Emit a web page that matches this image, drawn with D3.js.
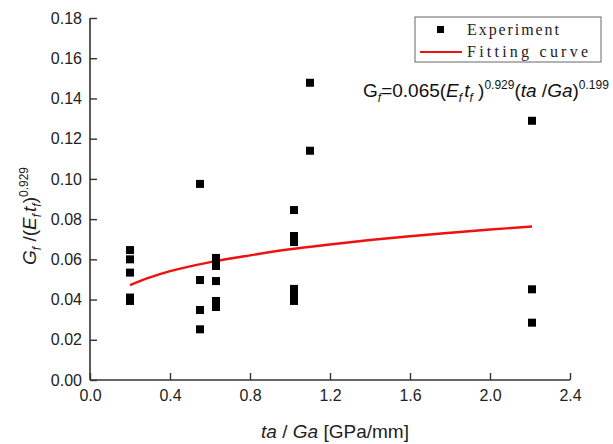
<!DOCTYPE html>
<html>
<head>
<meta charset="utf-8">
<script src="https://cdn.jsdelivr.net/npm/d3@7"></script>
<style>
body { margin: 0; background: #fff; }
text { font-family: "Liberation Sans", Arial, sans-serif; }
</style>
</head>
<body>
<svg id="chart"></svg>
<script>
// experiment points
var expX = [0.2, 0.2, 0.2, 0.2, 0.2,
	0.55, 0.55, 0.55, 0.55,
	0.63, 0.63, 0.63, 0.63, 0.63,
	1.02, 1.02, 1.02, 1.02, 1.02, 1.02,
	1.1, 1.1,
	2.21, 2.21, 2.21];
var expY = [0.0646, 0.0600, 0.0534, 0.0410, 0.0393,
	0.0975, 0.0497, 0.0348, 0.0252,
	0.0607, 0.0567, 0.0492, 0.0393, 0.0363,
	0.0845, 0.0716, 0.0686, 0.0453, 0.0423, 0.0393,
	0.1478, 0.1140,
	0.1289, 0.0451, 0.0285];

// fitting curve
var fitX = [0.2, 0.3, 0.4, 0.6, 0.8, 1.0, 1.2, 1.4, 1.6, 1.8, 2.0, 2.21];
var fitY = [0.0472, 0.0510, 0.0541, 0.0586, 0.0620, 0.0650, 0.0674, 0.0696, 0.0715, 0.0732, 0.0748, 0.0763];

var xTicks = [0.0, 0.4, 0.8, 1.2, 1.6, 2.0, 2.4];
var yTicks = [0.00, 0.02, 0.04, 0.06, 0.08, 0.10, 0.12, 0.14, 0.16, 0.18];

var W = 613, H = 444;
var svg = d3.select("#chart").attr("width", W).attr("height", H);

var x = d3.scaleLinear().domain([0, 2.4]).range([90, 570]);
var y = d3.scaleLinear().domain([0, 0.18]).range([380, 18]);

var axisColor = "#333";

// axes
var xAxis = svg.append("g")
	.attr("transform", "translate(0,380)")
	.call(d3.axisBottom(x).tickValues(xTicks).tickSize(-7).tickPadding(10).tickFormat(d3.format(".1f")));
var yAxis = svg.append("g")
	.attr("transform", "translate(90,0)")
	.call(d3.axisLeft(y).tickValues(yTicks).tickSize(-7).tickPadding(8).tickFormat(d3.format(".2f")));

[xAxis, yAxis].forEach(function(a) {
	a.select(".domain").attr("stroke", axisColor).attr("stroke-width", 1.6);
	a.selectAll(".tick line").attr("stroke", axisColor).attr("stroke-width", 1.4);
	a.selectAll(".tick text").attr("fill", "#222").style("font-size", "16px")
		.style("font-family", "Liberation Sans, Arial, sans-serif");
});
xAxis.select(".domain").attr("d", "M90,0H570");
yAxis.select(".domain").attr("d", "M0,18V380");

// fitting curve
var line = d3.line()
	.x(function(d, i) { return x(fitX[i]); })
	.y(function(d, i) { return y(fitY[i]); })
	.curve(d3.curveMonotoneX);
svg.append("path")
	.datum(fitX)
	.attr("d", line)
	.attr("fill", "none")
	.attr("stroke", "#f01010")
	.attr("stroke-width", 2.4);

// points
var sz = 8;
svg.selectAll(".pt")
	.data(expX)
	.enter()
	.append("rect")
	.attr("class", "pt")
	.attr("x", function(d) { return x(d) - sz / 2; })
	.attr("y", function(d, i) { return y(expY[i]) - sz / 2; })
	.attr("width", sz)
	.attr("height", sz)
	.attr("fill", "#000");

// legend
var lg = svg.append("g");
lg.append("rect")
	.attr("x", 415).attr("y", 17).attr("width", 186).attr("height", 45)
	.attr("fill", "#fff").attr("stroke", "#666").attr("stroke-width", 1);
lg.append("rect").attr("x", 437).attr("y", 26).attr("width", 7).attr("height", 7).attr("fill", "#000");
lg.append("line").attr("x1", 420).attr("x2", 462).attr("y1", 52).attr("y2", 52)
	.attr("stroke", "#f01010").attr("stroke-width", 2);
lg.append("text").attr("x", 467).attr("y", 35).text("Experiment")
	.attr("textLength", 92).attr("lengthAdjust", "spacing")
	.style("font-family", "Liberation Serif, serif").style("font-size", "16px").attr("fill", "#222");
lg.append("text").attr("x", 467).attr("y", 57).text("Fitting curve")
	.attr("textLength", 121).attr("lengthAdjust", "spacing")
	.style("font-family", "Liberation Serif, serif").style("font-size", "16px").attr("fill", "#222");

// equation
var eq = svg.append("text").attr("x", 363).attr("y", 97).style("font-size", "19px").attr("fill", "#111");
function part(el, txt, opt) {
	opt = opt || {};
	var t = el.append("tspan").text(txt);
	if (opt.it) t.style("font-style", "italic");
	if (opt.size) t.style("font-size", opt.size + "px");
	if (opt.dy) t.attr("dy", opt.dy);
	if (opt.dx) t.attr("dx", opt.dx);
	return t;
}
part(eq, "G");
part(eq, "f", { it: true, size: 12, dy: 5 });
part(eq, "=0.065(", { dy: -5 });
part(eq, "E", { it: true });
part(eq, "f", { it: true, size: 12, dy: 5 });
part(eq, "t", { it: true, dy: -5, dx: 2 });
part(eq, "f", { it: true, size: 12, dy: 5 });
part(eq, " )", { dy: -5 });
part(eq, "0.929", { size: 12, dy: -8 });
part(eq, "(", { dy: 8 });
part(eq, "ta", { it: true });
part(eq, " /");
part(eq, "Ga", { it: true });
part(eq, ")");
part(eq, "0.199", { size: 12, dy: -8 });

// y axis title
var yt = svg.append("text")
	.attr("transform", "translate(36,216) rotate(-90)")
	.attr("text-anchor", "middle")
	.style("font-size", "19px").attr("fill", "#222");
part(yt, "G", { it: true });
part(yt, "f", { it: true, size: 12, dy: 5 });
part(yt, " /(", { dy: -5 });
part(yt, "E", { it: true });
part(yt, "f", { it: true, size: 12, dy: 5 });
part(yt, "t", { it: true, dy: -5, dx: 2 });
part(yt, "f", { it: true, size: 12, dy: 5 });
part(yt, ")", { dy: -5 });
part(yt, "0.929", { size: 12, dy: -8 });

// x axis title
var xt = svg.append("text")
	.attr("x", 335).attr("y", 438)
	.attr("text-anchor", "middle")
	.style("font-size", "19px").attr("fill", "#222");
part(xt, "ta", { it: true });
part(xt, " / ");
part(xt, "Ga", { it: true });
part(xt, " [GPa/mm]");
</script>
</body>
</html>
